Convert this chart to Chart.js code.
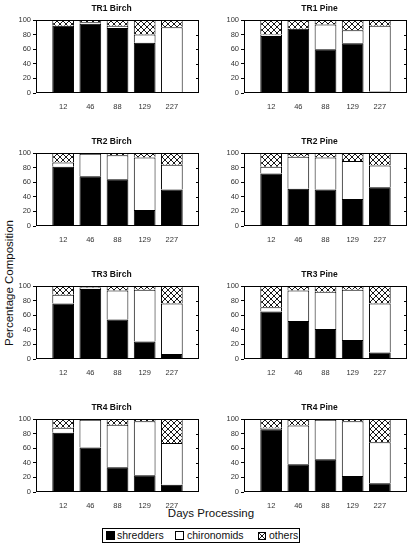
<!DOCTYPE html>
<html>
<head>
<meta charset="utf-8">
<script src="https://cdn.jsdelivr.net/npm/chart.js@4"></script>
<style>
  body { margin: 0; background: #fff; font-family: "Liberation Sans", Arial, sans-serif; }
  #wrap { position: relative; width: 413px; height: 545px; overflow: hidden; }
  #wrap canvas { position: absolute; }
  .ylab { position: absolute; left: 9px; top: 283px; transform: translate(-50%, -50%) rotate(-90deg);
          font-size: 11.5px; white-space: nowrap; color: #111; }
  .xlab { position: absolute; left: 211px; top: 513px; transform: translate(-50%, -50%);
          font-size: 11.5px; white-space: nowrap; color: #111; }
  .legend { position: absolute; left: 102px; top: 528px; width: 196px; height: 13px;
            border: 1px solid #000; font-size: 10.5px; color: #111; }
  .legend span { position: absolute; top: 0; line-height: 13px; }
  .sw { position: absolute; top: 2px; width: 9px; height: 9px; box-sizing: border-box; border: 1px solid #000; }
</style>
</head>
<body>
<div id="wrap">
  <div class="ylab">Percentage Composition</div>
  <div class="xlab">Days Processing</div>
  <div class="legend">
    <div class="sw" style="left:3px;background:#000"></div><span style="left:14px">shredders</span>
    <div class="sw" style="left:72px;background:#fff"></div><span style="left:84px">chironomids</span>
    <div class="sw" id="hatchSw" style="left:155px;width:8px;height:8px;top:3px"></div><span style="left:166px">others</span>
  </div>
</div>
<script>
const days = ["12", "46", "88", "129", "227"];
const titles = ["TR1 Birch", "TR1 Pine", "TR2 Birch", "TR2 Pine",
                "TR3 Birch", "TR3 Pine", "TR4 Birch", "TR4 Pine"];

// segment heights (%), one row per panel
const shredders = [
  [92, 95, 89, 69, 0],
  [78, 88, 60, 68, 2],
  [81, 68, 64, 22, 50],
  [72, 51, 50, 37, 53],
  [76, 96, 54, 24, 7],
  [65, 52, 41, 26, 9],
  [81, 61, 34, 23, 10],
  [86, 38, 45, 22, 12],
];
const chironomids = [
  [0, 2, 3, 11, 90],
  [2, 0, 34, 18, 90],
  [6, 31, 33, 72, 34],
  [9, 44, 44, 52, 30],
  [12, 2, 40, 71, 69],
  [6, 42, 51, 69, 67],
  [7, 38, 58, 74, 57],
  [2, 53, 54, 75, 56],
];
const others = [
  [8, 3, 8, 20, 10],
  [20, 12, 6, 14, 8],
  [13, 1, 3, 6, 16],
  [19, 5, 6, 11, 17],
  [12, 2, 6, 5, 24],
  [29, 6, 8, 5, 24],
  [12, 1, 8, 3, 33],
  [12, 9, 1, 3, 32],
];

// cross hatch fill
const pc = document.createElement("canvas");
pc.width = 6; pc.height = 6;
const p = pc.getContext("2d");
p.fillStyle = "#fff"; p.fillRect(0, 0, 6, 6);
p.strokeStyle = "#000"; p.lineWidth = 0.9;
p.beginPath();
p.moveTo(0, 0); p.lineTo(6, 6);
p.moveTo(6, 0); p.lineTo(0, 6);
p.stroke();
document.getElementById("hatchSw").style.background = "url(" + pc.toDataURL() + ")";

const tickFont = { family: "Liberation Sans", size: 7.5 };

const frame = {
  id: "frame",
  afterDatasetsDraw(chart) {
    const a = chart.chartArea, c = chart.ctx, y = chart.scales.y;
    c.save();
    c.strokeStyle = "#000";
    c.lineWidth = 1;
    c.strokeRect(Math.round(a.left) + 0.5, Math.round(a.top) + 0.5,
                 Math.round(a.right - a.left) - 1, Math.round(a.bottom - a.top) - 1);
    c.beginPath();
    for (let v = 20; v < 100; v += 20) {
      const py = Math.round(y.getPixelForValue(v)) + 0.5;
      c.moveTo(a.right - 3, py); c.lineTo(a.right, py);
    }
    c.stroke();
    c.restore();
  },
  afterDraw(chart) {
    const a = chart.chartArea, c = chart.ctx;
    c.save();
    c.font = "bold 8.5px 'Liberation Sans'";
    c.fillStyle = "#111";
    c.textAlign = "center";
    c.textBaseline = "middle";
    c.fillText(chart.options.panelTitle, (a.left + a.right) / 2 - 6, a.top - 11);
    c.restore();
  },
};

const pad = arr => [null, ...arr, null];
const wrap = document.getElementById("wrap");

titles.forEach((t, i) => {
  const cv = document.createElement("canvas");
  cv.width = 205; cv.height = 112;
  cv.style.left = (i % 2 === 0 ? 0 : 208) + "px";
  cv.style.top = (Math.floor(i / 2) * 133) + "px";
  wrap.appendChild(cv);

  new Chart(cv.getContext("2d"), {
    type: "bar",
    data: {
      labels: ["", ...days, ""],
      datasets: [
        { label: "shredders", data: pad(shredders[i]), backgroundColor: "#000", borderColor: "#000", borderWidth: 1 },
        { label: "chironomids", data: pad(chironomids[i]), backgroundColor: "#fff", borderColor: "#000", borderWidth: 1 },
        { label: "others", data: pad(others[i]), backgroundColor: p.createPattern(pc, "repeat"), borderColor: "#000", borderWidth: 1 },
      ],
    },
    options: {
      panelTitle: t,
      responsive: false,
      animation: false,
      events: [],
      layout: { padding: { top: 20, right: 6, left: 0, bottom: 0 } },
      datasets: { bar: { categoryPercentage: 1, barPercentage: 0.8 } },
      plugins: { legend: { display: false }, tooltip: { enabled: false } },
      scales: {
        x: {
          stacked: true,
          offset: false,
          grid: { display: false },
          border: { display: false },
          ticks: { font: tickFont, color: "#333", padding: 1, maxRotation: 0, autoSkip: false },
          afterFit(s) { s.height = 19; },
        },
        y: {
          stacked: true,
          min: 0,
          max: 100,
          grid: { display: true, drawOnChartArea: false, tickLength: 3, color: "#000" },
          border: { display: false },
          ticks: { stepSize: 20, font: tickFont, color: "#333", padding: 2 },
          afterFit(s) { s.width = 36; },
        },
      },
    },
    plugins: [frame],
  });
});
</script>
</body>
</html>
